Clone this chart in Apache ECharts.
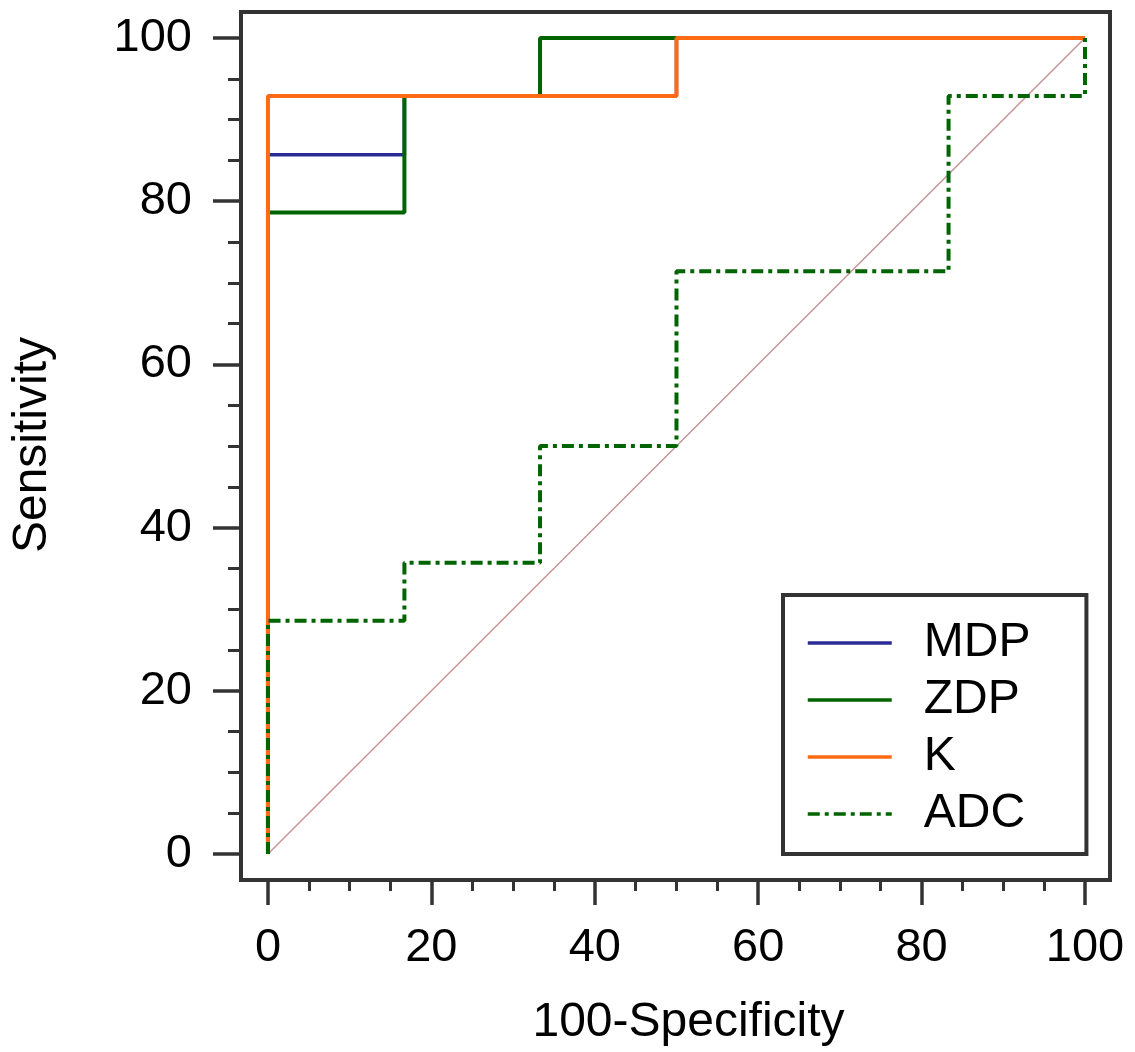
<!DOCTYPE html>
<html>
<head>
<meta charset="utf-8">
<script src="https://cdn.jsdelivr.net/npm/echarts@6/dist/echarts.min.js"></script>
<style>html,body{margin:0;padding:0;background:#fff;}#c{width:1135px;height:1052px;}</style>
</head>
<body>
<div id="c"></div>
<script>
// ROC curve points: [100-Specificity, Sensitivity]
const mdpX = [0, 0, 16.7, 16.7, 50, 50, 100];
const mdpY = [0, 85.7, 85.7, 92.9, 92.9, 100, 100];
const zdpX = [0, 0, 16.7, 16.7, 33.3, 33.3, 100];
const zdpY = [0, 78.6, 78.6, 92.9, 92.9, 100, 100];
const kX = [0, 0, 50, 50, 100];
const kY = [0, 92.9, 92.9, 100, 100];
const adcX = [0, 0, 16.7, 16.7, 33.3, 33.3, 50, 50, 83.3, 83.3, 100, 100];
const adcY = [0, 28.6, 28.6, 35.7, 35.7, 50, 50, 71.4, 71.4, 92.9, 92.9, 100];
const refX = [0, 100];
const refY = [0, 100];
const seriesNames = ['MDP', 'ZDP', 'K', 'ADC'];
const majorTicks = [0, 20, 40, 60, 80, 100];
const minorTicks = [5, 10, 15, 25, 30, 35, 45, 50, 55, 65, 70, 75, 85, 90, 95];
const xRange = [-3.3, 103.06];
const yRange = [-2.93, 103.18];
const xTitle = '100-Specificity';
const yTitle = 'Sensitivity';

const zip = (xs, ys) => xs.map((x, i) => [x, ys[i]]);
const FONT = 'Liberation Sans, Arial, sans-serif';
const TICK = '#333';

function makeAxes(range, isX) {
  const major = {
    type: 'value', min: range[0], max: range[1],
    axisLine: {show: false, onZero: false}, splitLine: {show: false},
    axisTick: {show: true, inside: false, length: isX ? 27 : 28, customValues: majorTicks,
               lineStyle: {color: TICK, width: 3.5}},
    axisLabel: {show: true, inside: false, customValues: majorTicks, color: '#000', fontSize: 47,
                fontFamily: FONT, margin: isX ? 47 : 49},
    name: isX ? xTitle : yTitle, nameLocation: 'middle',
    nameGap: isX ? 121 : 184,
    nameTextStyle: isX
      ? {color: '#000', fontSize: 48, fontFamily: FONT, padding: [0, 0, 0, 26]}
      : {color: '#000', fontSize: 48, fontFamily: FONT}
  };
  const minor = {
    type: 'value', min: range[0], max: range[1],
    position: isX ? 'bottom' : 'left',
    axisLine: {show: false, onZero: false}, splitLine: {show: false},
    axisTick: {show: true, inside: false, length: 13, customValues: minorTicks,
               lineStyle: {color: TICK, width: 3}},
    axisLabel: {show: false}
  };
  return [major, minor];
}

const chart = echarts.init(document.getElementById('c'));
chart.setOption({
  animation: false,
  backgroundColor: '#fff',
  grid: {left: 241, right: 25, top: 12, bottom: 172},
  xAxis: makeAxes(xRange, true),
  yAxis: makeAxes(yRange, false),
  legend: {
    orient: 'vertical', left: 783, top: 595,
    data: seriesNames,
    itemWidth: 84, itemHeight: 14, itemGap: 9,
    padding: [24, 56, 16, 23],
    borderColor: '#333', borderWidth: 4,
    itemStyle: {opacity: 0},
    lineStyle: {width: 3.5},
    textStyle: {color: '#000', fontSize: 48, fontFamily: FONT, lineHeight: 48, padding: [0, 0, 0, 27]}
  },
  graphic: [{
    type: 'rect', z: 100, silent: true,
    shape: {x: 241, y: 12, width: 869, height: 868},
    style: {fill: null, stroke: '#333', lineWidth: 4}
  }],
  series: [
    {name: 'ref', type: 'line', data: zip(refX, refY), symbol: 'none', z: 1,
     lineStyle: {color: '#C99494', width: 1.5}, silent: true},
    {name: 'MDP', type: 'line', data: zip(mdpX, mdpY), symbol: 'none', z: 2,
     color: '#2B2B96', lineStyle: {color: '#2B2B96', width: 3.5}},
    {name: 'ZDP', type: 'line', data: zip(zdpX, zdpY), symbol: 'none', z: 3,
     color: '#006400', lineStyle: {color: '#006400', width: 4}},
    {name: 'K', type: 'line', data: zip(kX, kY), symbol: 'none', z: 4,
     color: '#FF6A13', lineStyle: {color: '#FF6A13', width: 4}},
    {name: 'ADC', type: 'line', data: zip(adcX, adcY), symbol: 'none', z: 5,
     color: '#006400', lineStyle: {color: '#006400', width: 4, type: [12, 5, 4, 5]}}
  ]
});
</script>
</body>
</html>
